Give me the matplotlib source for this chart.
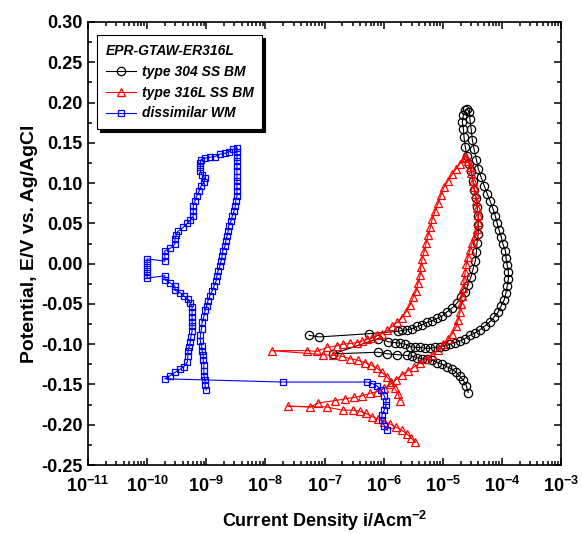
import numpy as np
import matplotlib
matplotlib.use('Agg')
import matplotlib.pyplot as plt
from matplotlib.ticker import LogLocator, MultipleLocator, FormatStrFormatter, NullFormatter

# DL-EPR curves: log10(i / A cm^-2) and E (V vs Ag/AgCl)
bm304_log_i = [
    -4.57, -4.60, -4.65, -4.71, -4.77, -4.84, -4.93, -5.01, -5.09, -5.18, -5.26, -5.35, -5.43, -5.52,
    -5.60, -5.77, -5.94, -6.09, -6.85, -6.09, -5.92, -5.81, -5.72, -5.64, -5.55, -5.47, -5.38, -5.30,
    -5.21, -5.13, -5.04, -4.96, -4.87, -4.79, -4.71, -4.62, -4.54, -4.45, -4.37, -4.28, -4.20, -4.13,
    -4.06, -4.01, -3.96, -3.93, -3.91, -3.89, -3.89, -3.91, -3.93, -3.94, -3.98, -4.01, -4.05, -4.08,
    -4.11, -4.15, -4.20, -4.25, -4.30, -4.35, -4.40, -4.43, -4.47, -4.50, -4.52, -4.54, -4.55, -4.59,
    -4.62, -4.65, -4.67, -4.65, -4.64, -4.62, -4.59, -4.55, -4.52, -4.49, -4.47, -4.43, -4.42, -4.40,
    -4.40, -4.40, -4.42, -4.43, -4.45, -4.49, -4.52, -4.57, -4.62, -4.69, -4.76, -4.84, -4.93, -5.01,
    -5.09, -5.18, -5.26, -5.35, -5.43, -5.52, -5.60, -5.69, -5.75, -6.25, -7.09, -7.26,
]
bm304_e = [
    -0.160, -0.152, -0.145, -0.140, -0.135, -0.131, -0.128, -0.125, -0.123, -0.120, -0.119, -0.118,
    -0.117, -0.115, -0.114, -0.113, -0.112, -0.110, -0.112, -0.093, -0.097, -0.098, -0.099, -0.100,
    -0.103, -0.104, -0.104, -0.105, -0.105, -0.104, -0.103, -0.102, -0.100, -0.098, -0.096, -0.093,
    -0.089, -0.086, -0.082, -0.077, -0.072, -0.066, -0.060, -0.052, -0.045, -0.036, -0.028, -0.019,
    -0.010, -0.002, 0.007, 0.016, 0.024, 0.033, 0.042, 0.050, 0.059, 0.068, 0.078, 0.087, 0.097,
    0.107, 0.118, 0.129, 0.142, 0.154, 0.167, 0.179, 0.188, 0.192, 0.191, 0.185, 0.176, 0.167, 0.157,
    0.145, 0.134, 0.124, 0.115, 0.103, 0.092, 0.081, 0.070, 0.059, 0.048, 0.037, 0.026, 0.014, 0.003,
    -0.007, -0.016, -0.026, -0.035, -0.042, -0.049, -0.055, -0.060, -0.065, -0.068, -0.071, -0.073,
    -0.076, -0.078, -0.081, -0.082, -0.083, -0.084, -0.087, -0.091, -0.089,
]

bm316_log_i = [
    -5.72, -5.75, -5.81, -5.87, -5.94, -6.03, -6.11, -6.21, -6.31, -6.43, -6.57, -6.70, -6.85, -7.02,
    -7.89, -7.29, -7.13, -6.96, -6.79, -6.69, -6.57, -6.45, -6.36, -6.28, -6.19, -6.11, -6.03, -5.94,
    -5.86, -5.77, -5.69, -5.62, -5.55, -5.50, -5.45, -5.42, -5.38, -5.37, -5.35, -5.31, -5.28, -5.25,
    -5.21, -5.18, -5.13, -5.08, -5.03, -4.98, -4.91, -4.84, -4.77, -4.71, -4.64, -4.60,
    -4.57, -4.54, -4.52, -4.49, -4.47, -4.45, -4.43, -4.42, -4.40, -4.40, -4.42, -4.45, -4.50, -4.54,
    -4.57, -4.60, -4.62, -4.64, -4.65, -4.67, -4.69, -4.71, -4.74, -4.77, -4.84, -4.91, -4.99, -5.08,
    -5.18, -5.28, -5.38, -5.48, -5.59, -5.69, -5.79, -5.89, -5.99, -6.11, -6.23, -6.36, -6.50, -6.65,
    -6.82, -7.11, -7.24, -7.62, -6.96, -6.69, -6.52, -6.40, -6.30, -6.19, -6.09, -5.99, -5.89, -5.79,
    -5.69, -5.60, -5.53, -5.47,
]
bm316_e = [
    -0.170, -0.162, -0.155, -0.147, -0.141, -0.135, -0.130, -0.126, -0.123, -0.120, -0.118, -0.115,
    -0.114, -0.113, -0.108, -0.108, -0.109, -0.104, -0.102, -0.100, -0.099, -0.098, -0.096, -0.094,
    -0.092, -0.089, -0.087, -0.083, -0.078, -0.073, -0.067, -0.060, -0.051, -0.042, -0.034, -0.024,
    -0.014, -0.004, 0.006, 0.016, 0.026, 0.035, 0.045, 0.055, 0.065, 0.075, 0.085, 0.095, 0.103,
    0.111, 0.118, 0.124, 0.131, 0.133,
    0.127, 0.120, 0.112, 0.103, 0.095, 0.086, 0.078, 0.069, 0.060, 0.052, 0.043, 0.034, 0.026, 0.017,
    0.008, 0.000, -0.010, -0.020, -0.030, -0.040, -0.050, -0.060, -0.070, -0.078, -0.087, -0.094,
    -0.100, -0.107, -0.113, -0.118, -0.123, -0.128, -0.133, -0.138, -0.144, -0.150, -0.155, -0.159,
    -0.161, -0.164, -0.166, -0.168, -0.170, -0.173, -0.178, -0.177, -0.178, -0.182, -0.182, -0.183,
    -0.186, -0.190, -0.193, -0.196, -0.199, -0.203, -0.207, -0.212, -0.217, -0.222,
]

wm_log_i = [
    -9.00, -9.02, -9.02, -9.04, -9.04, -9.04, -9.05, -9.05, -9.07, -9.08, -9.10, -9.10, -9.08, -9.07,
    -9.04, -9.02, -8.99, -8.97, -8.94, -8.90, -8.87, -8.83, -8.82, -8.80, -8.77, -8.75, -8.73, -8.72,
    -8.68, -8.67, -8.65, -8.63, -8.62, -8.58, -8.56, -8.53, -8.51, -8.50, -8.48, -8.48, -8.48, -8.48,
    -8.48, -8.48, -8.48, -8.48, -8.48, -8.48, -8.48,
    -8.55, -8.62, -8.68, -8.77, -8.85, -8.94, -9.02, -9.09,
    -9.10, -9.10, -9.10, -9.07, -9.02, -9.04, -9.09, -9.12, -9.16, -9.19, -9.22, -9.22, -9.22, -9.27,
    -9.32, -9.39, -9.48, -9.51, -9.53, -9.53, -9.61, -9.70, -9.70, -9.70, -10.00, -10.00, -10.00,
    -10.00, -10.00, -10.00, -9.70, -9.70, -9.61, -9.53, -9.53, -9.44, -9.38, -9.31, -9.27, -9.24,
    -9.24, -9.24, -9.24, -9.24, -9.24, -9.26, -9.27, -9.29, -9.31, -9.31, -9.32, -9.38, -9.44, -9.53,
    -9.61, -9.70,
    -7.70, -6.28, -6.19, -6.11, -6.04, -5.99, -5.96, -5.96, -5.99, -6.03, -6.03, -5.99, -5.94,
]
wm_e = [
    -0.157, -0.151, -0.145, -0.139, -0.133, -0.126, -0.120, -0.114, -0.108, -0.102, -0.096, -0.089,
    -0.081, -0.073, -0.066, -0.058, -0.052, -0.046, -0.040, -0.034, -0.028, -0.021, -0.015, -0.009,
    -0.003, 0.003, 0.010, 0.016, 0.022, 0.028, 0.034, 0.040, 0.047, 0.053, 0.059, 0.065, 0.071,
    0.078, 0.084, 0.090, 0.096, 0.102, 0.108, 0.115, 0.121, 0.127, 0.133, 0.139, 0.144,
    0.142, 0.139, 0.137, 0.136, 0.133, 0.132, 0.131, 0.129,
    0.125, 0.120, 0.115, 0.110, 0.106, 0.101, 0.096, 0.090, 0.084, 0.078, 0.071, 0.065, 0.059, 0.054,
    0.050, 0.045, 0.040, 0.035, 0.031, 0.024, 0.019, 0.016, 0.010, 0.003, 0.006, 0.001, -0.004,
    -0.009, -0.014, -0.018, -0.015, -0.020, -0.024, -0.028, -0.033, -0.036, -0.040, -0.044, -0.049,
    -0.054, -0.060, -0.066, -0.072, -0.078, -0.084, -0.091, -0.097, -0.103, -0.109, -0.115, -0.122,
    -0.128, -0.131, -0.135, -0.139, -0.143,
    -0.147, -0.147, -0.149, -0.152, -0.157, -0.164, -0.170, -0.176, -0.182, -0.188, -0.194, -0.201,
    -0.207,
]

series = [
    ('type 304 SS BM', bm304_log_i, bm304_e, 'black', 'o'),
    ('type 316L SS BM', bm316_log_i, bm316_e, 'red', '^'),
    ('dissimilar WM', wm_log_i, wm_e, 'blue', 's'),
]

plt.rcParams['font.family'] = ['Liberation Sans', 'DejaVu Sans']
plt.rcParams['font.weight'] = 'bold'
plt.rcParams['axes.unicode_minus'] = False
plt.rcParams['mathtext.fontset'] = 'custom'
plt.rcParams['mathtext.rm'] = 'Liberation Sans:bold'
plt.rcParams['mathtext.it'] = 'Liberation Sans:bold:italic'
plt.rcParams['mathtext.bf'] = 'Liberation Sans:bold'

fig = plt.figure(figsize=(5.82, 5.34), dpi=100)
ax = fig.add_axes([88 / 582, 1 - 465 / 534, 473 / 582, 443 / 534])

for z, (label, log_i, e, color, marker) in enumerate(series):
    ax.plot(10 ** np.array(log_i), e, color=color, lw=0.8, marker=marker,
            ms=6 if marker != 's' else 5, mfc='none', mec=color, mew=0.9,
            label=label, zorder=2 + z)

ax.set_xscale('log')
ax.set_xlim(1e-11, 1e-3)
ax.set_ylim(-0.25, 0.30)
ax.xaxis.set_major_locator(LogLocator(base=10, numticks=20))
ax.xaxis.set_minor_locator(LogLocator(base=10, subs=np.arange(2, 10), numticks=20))
ax.xaxis.set_minor_formatter(NullFormatter())
ax.yaxis.set_major_locator(MultipleLocator(0.05))
ax.yaxis.set_minor_locator(MultipleLocator(0.025))
ax.yaxis.set_major_formatter(FormatStrFormatter('%.2f'))

ax.tick_params(which='both', direction='in', top=True, right=True, width=1.1)
ax.tick_params(which='major', length=5, labelsize=13)
ax.tick_params(axis='x', which='major', pad=8)
ax.tick_params(axis='y', which='major', pad=4)
ax.tick_params(which='minor', length=3)
for sp in ax.spines.values():
    sp.set_linewidth(1.2)

ax.set_xlabel('Current Density i/Acm$^{-2}$', fontsize=13, fontweight='bold', labelpad=9)
ax.set_ylabel('Potential, E/V vs. Ag/AgCl', fontsize=14, fontweight='bold', labelpad=2)

leg = ax.legend(loc='upper left', bbox_to_anchor=(0.02, 0.97), title='EPR-GTAW-ER316L',
                prop={'size': 10, 'weight': 'bold', 'style': 'italic'},
                title_fontproperties={'size': 10, 'weight': 'bold', 'style': 'italic'},
                alignment='left', fancybox=False, shadow={'color': 'black', 'alpha': 1},
                edgecolor='black', framealpha=1, handlelength=2.2, handletextpad=0.4,
                labelspacing=0.5, borderpad=0.6, borderaxespad=0)
leg.get_frame().set_linewidth(0.8)

fig.savefig('out.png', dpi=100)
